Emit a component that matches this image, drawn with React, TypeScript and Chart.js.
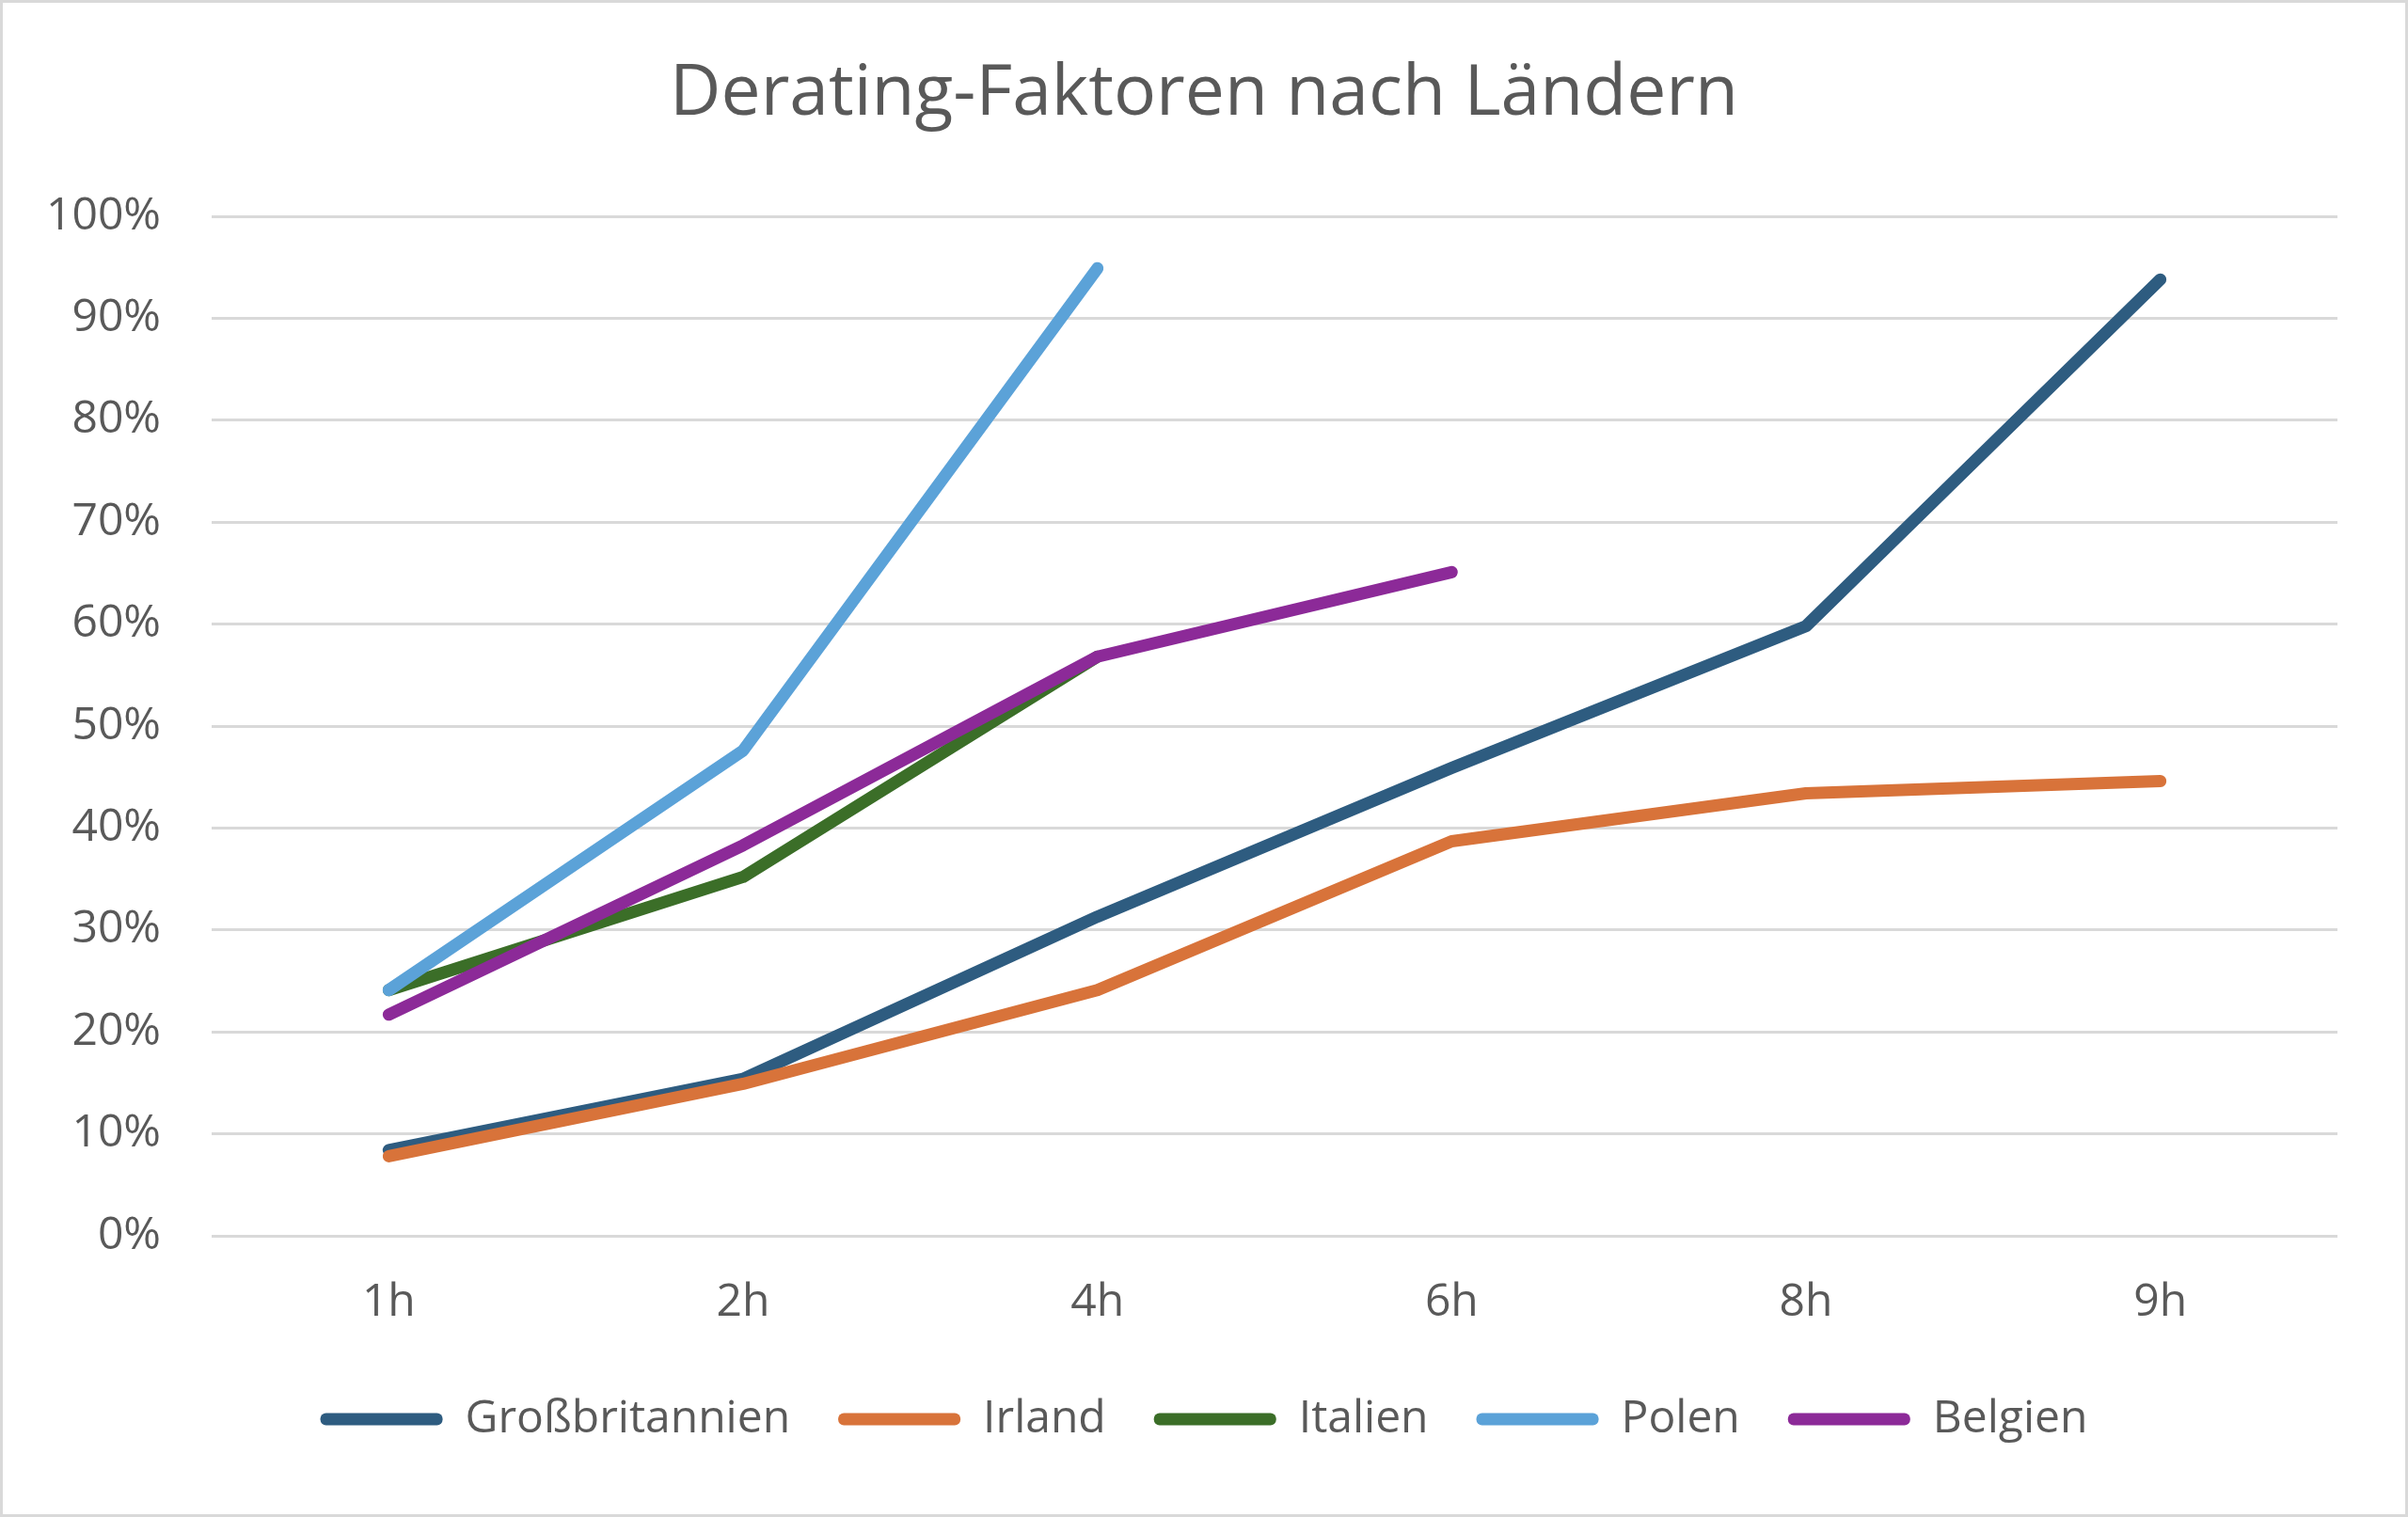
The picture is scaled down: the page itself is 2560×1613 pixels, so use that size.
import React, { useEffect, useRef } from "react";
import { Chart, registerables } from "chart.js";

Chart.register(...registerables);

const categories = ["1h", "2h", "4h", "6h", "8h", "9h"];
const seriesNames = ["Großbritannien", "Irland", "Italien", "Polen", "Belgien"];
const grossbritannien = [8.4, 15.4, 31.3, 45.9, 59.8, 93.8];
const irland = [7.8, 14.9, 24.1, 38.7, 43.4, 44.6];
const italien = [24.1, 35.2, 56.8, null, null, null];
const polen = [24.1, 47.6, 94.9, null, null, null];
const belgien = [21.7, 38.3, 56.8, 65.1, null, null];
const yTicks = [0, 10, 20, 30, 40, 50, 60, 70, 80, 90, 100];
const colors = ["#2E5C80", "#D8733A", "#3B6E28", "#5BA2D8", "#8C2A98"];

const FONT = "'Open Sans', sans-serif";

export default function App() {
  const ref = useRef<HTMLCanvasElement | null>(null);

  useEffect(() => {
    if (!ref.current) return;
    const values = [grossbritannien, irland, italien, polen, belgien];
    const chart = new Chart(ref.current, {
      type: "line",
      data: {
        labels: categories,
        datasets: seriesNames.map((name, i) => ({
          label: name,
          data: values[i],
          borderColor: colors[i],
          backgroundColor: colors[i],
          borderWidth: 13,
          borderCapStyle: "round" as const,
          borderJoinStyle: "round" as const,
          pointRadius: 0,
          pointHoverRadius: 0,
          tension: 0,
          fill: false,
          order: seriesNames.length - i,
        })),
      },
      options: {
        animation: false,
        responsive: true,
        maintainAspectRatio: false,
        layout: { padding: { left: 36, right: 36, top: 40, bottom: 67 } },
        plugins: {
          tooltip: { enabled: false },
          title: {
            display: true,
            text: "Derating-Faktoren nach Ländern",
            color: "#595959",
            font: { family: FONT, size: 75, weight: "normal" },
            padding: { top: 13, bottom: 84 },
          },
          legend: {
            position: "bottom",
            labels: {
              color: "#595959",
              font: { family: FONT, size: 48 },
              boxWidth: 130,
              boxHeight: 13,
              padding: 51,
              generateLabels: (c: any) => {
                const items = Chart.defaults.plugins.legend.labels.generateLabels(c);
                return items
                  .map((it: any) => ({
                    ...it,
                    fillStyle: colors[it.datasetIndex],
                    strokeStyle: colors[it.datasetIndex],
                    lineWidth: 0,
                    borderRadius: 6,
                  }))
                  .sort((a: any, b: any) => a.datasetIndex - b.datasetIndex);
              },
            },
          },
        },
        scales: {
          x: {
            offset: true,
            afterFit: (s: any) => {
              s.height = 120;
            },
            grid: { display: false, drawTicks: false },
            border: { display: false },
            ticks: {
              color: "#595959",
              font: { family: FONT, size: 48 },
              padding: 43,
            },
          },
          y: {
            min: 0,
            max: 100,
            afterFit: (s: any) => {
              s.width = 186;
            },
            afterBuildTicks: (s: any) => {
              s.ticks = yTicks.map((v) => ({ value: v }));
            },
            grid: { color: "#D9D9D9", lineWidth: 3, drawTicks: false },
            border: { display: false },
            ticks: {
              color: "#595959",
              font: { family: FONT, size: 48 },
              padding: 54,
              callback: (v: any) => `${v}%`,
            },
          },
          yRight: {
            position: "right",
            display: true,
            afterFit: (s: any) => {
              s.width = 36;
            },
            grid: { display: false, drawTicks: false },
            border: { display: false },
            ticks: { display: false },
          },
        },
      },
    });
    return () => chart.destroy();
  }, []);

  return (
    <div
      style={{
        position: "absolute",
        left: 0,
        top: 0,
        width: 2560,
        height: 1613,
        border: "3px solid #D9D9D9",
        boxSizing: "border-box",
        background: "#fff",
      }}
    >
      <canvas ref={ref} />
    </div>
  );
}
